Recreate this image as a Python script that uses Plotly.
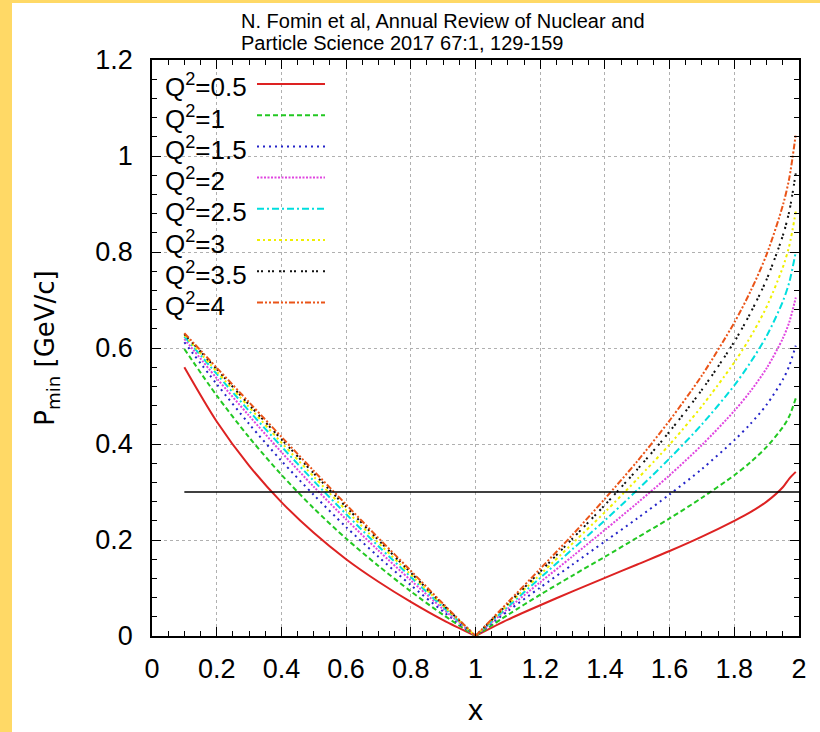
import plotly.graph_objects as go

# ---------------- data ----------------
X_VALUES = [0.1, 0.2, 0.3, 0.4, 0.5, 0.6, 0.7, 0.8, 0.9, 1.0,
            1.1, 1.2, 1.3, 1.4, 1.5, 1.6, 1.7, 1.8, 1.85, 1.9, 1.95, 1.97, 1.99]

Q2_LABELS = ["0.5", "1", "1.5", "2", "2.5", "3", "3.5", "4"]

P_Q2_05 = [0.560, 0.447, 0.355, 0.279, 0.215, 0.160, 0.113, 0.071, 0.033, 0.0,
           0.034, 0.064, 0.093, 0.121, 0.149, 0.177, 0.207, 0.240, 0.258, 0.280, 0.310, 0.328, 0.342]
P_Q2_1 = [0.598, 0.501, 0.414, 0.336, 0.266, 0.203, 0.146, 0.093, 0.044, 0.0,
          0.044, 0.086, 0.126, 0.165, 0.205, 0.245, 0.288, 0.335, 0.362, 0.394, 0.435, 0.458, 0.495]
P_Q2_15 = [0.612, 0.525, 0.442, 0.365, 0.294, 0.227, 0.165, 0.106, 0.051, 0.0,
           0.052, 0.101, 0.149, 0.197, 0.245, 0.295, 0.348, 0.408, 0.442, 0.482, 0.534, 0.563, 0.605]
P_Q2_2 = [0.619, 0.537, 0.459, 0.383, 0.311, 0.243, 0.178, 0.116, 0.056, 0.0,
          0.057, 0.112, 0.166, 0.221, 0.277, 0.335, 0.398, 0.469, 0.510, 0.558, 0.620, 0.654, 0.705]
P_Q2_25 = [0.624, 0.546, 0.469, 0.395, 0.323, 0.254, 0.187, 0.123, 0.060, 0.0,
           0.061, 0.121, 0.181, 0.241, 0.304, 0.370, 0.441, 0.522, 0.570, 0.625, 0.697, 0.737, 0.800]
P_Q2_3 = [0.627, 0.551, 0.477, 0.403, 0.332, 0.262, 0.194, 0.128, 0.063, 0.0,
          0.065, 0.128, 0.193, 0.258, 0.327, 0.399, 0.479, 0.570, 0.623, 0.686, 0.768, 0.813, 0.884]
P_Q2_35 = [0.629, 0.556, 0.482, 0.410, 0.339, 0.269, 0.200, 0.132, 0.065, 0.0,
           0.067, 0.134, 0.203, 0.273, 0.347, 0.426, 0.513, 0.613, 0.673, 0.743, 0.834, 0.885, 0.964]
P_Q2_4 = [0.631, 0.559, 0.487, 0.415, 0.344, 0.274, 0.204, 0.136, 0.067, 0.0,
          0.070, 0.140, 0.211, 0.286, 0.364, 0.449, 0.543, 0.653, 0.718, 0.795, 0.897, 0.954, 1.045]

REF_X = [0.1, 2.0]
REF_Y = [0.3, 0.3]

X_TICKS = [0, 0.2, 0.4, 0.6, 0.8, 1, 1.2, 1.4, 1.6, 1.8, 2]
X_TICK_TEXT = ["0", "0.2", "0.4", "0.6", "0.8", "1", "1.2", "1.4", "1.6", "1.8", "2"]
Y_TICKS = [0, 0.2, 0.4, 0.6, 0.8, 1, 1.2]
Y_TICK_TEXT = ["0", "0.2", "0.4", "0.6", "0.8", "1", "1.2"]

SERIES = [P_Q2_05, P_Q2_1, P_Q2_15, P_Q2_2, P_Q2_25, P_Q2_3, P_Q2_35, P_Q2_4]
COLORS = ["#dd2222", "#22c822", "#2424c8", "#e046e0", "#00dede", "#f0f000", "#111111", "#ea5418"]
DASHES = ["solid", "5px,3px", "2px,4px", "2px,1.5px", "7px,3px,2px,3px",
          "3px,3px,2px,3px", "2px,2px,2px,5px", "6px,2px,2px,2px,2px,2px"]

SANS = "Liberation Sans"

fig = go.Figure()

# the V-shaped curves: left branch (x <= 1) and right branch (x >= 1)
split = X_VALUES.index(1.0)
for lab, ys, col, dash in zip(Q2_LABELS, SERIES, COLORS, DASHES):
    for xs_part, ys_part in ((X_VALUES[:split + 1], ys[:split + 1]),
                             (X_VALUES[split:], ys[split:])):
        fig.add_trace(go.Scatter(x=xs_part, y=ys_part, mode="lines",
                                 name="Q²=" + lab, legendgroup=lab,
                                 line=dict(color=col, width=2, dash=dash,
                                           shape="spline", smoothing=0.8),
                                 showlegend=False))

fig.add_trace(go.Scatter(x=REF_X, y=REF_Y, mode="lines",
                         line=dict(color="black", width=1.5), showlegend=False,
                         hoverinfo="skip"))

# ---------------- layout ----------------
L, R, T, B = 152, 21, 60, 96
W, H = 820, 732
PW, PH = W - L - R, H - T - B


def px_x(p):
    return (p - L) / PW


def px_y(p):
    return (H - B - p) / PH


annotations = []
shapes = []

# legend (text left, sample right, gnuplot style)
for i, (lab, col, dash) in enumerate(zip(Q2_LABELS, COLORS, DASHES)):
    yrow = 84 + 31.2 * i
    annotations.append(dict(
        xref="paper", yref="paper", x=px_x(163), y=px_y(yrow + 2),
        xanchor="left", yanchor="middle", showarrow=False,
        text="Q<sup>2</sup>=" + lab,
        font=dict(family=SANS, size=26, color="black")))
    shapes.append(dict(type="line", xref="paper", yref="paper",
                       x0=px_x(257), x1=px_x(325), y0=px_y(yrow), y1=px_y(yrow),
                       line=dict(color=col, width=2, dash=dash)))

# citation text
annotations.append(dict(xref="paper", yref="paper", x=px_x(239), y=px_y(21),
                        xanchor="left", yanchor="middle", showarrow=False,
                        text="N. Fomin et al, Annual Review of Nuclear and",
                        font=dict(family=SANS, size=20, color="black")))
annotations.append(dict(xref="paper", yref="paper", x=px_x(239), y=px_y(43),
                        xanchor="left", yanchor="middle", showarrow=False,
                        text="Particle Science 2017 67:1, 129-159",
                        font=dict(family=SANS, size=20, color="black")))

# yellow frame strips (left and top)
YEL = "#ffd966"
shapes.append(dict(type="rect", xref="paper", yref="paper", layer="below",
                   x0=px_x(-2), x1=px_x(12), y0=px_y(H + 2), y1=px_y(-2),
                   fillcolor=YEL, line=dict(width=0)))
shapes.append(dict(type="rect", xref="paper", yref="paper", layer="below",
                   x0=px_x(-2), x1=px_x(W + 2), y0=px_y(3), y1=px_y(-2),
                   fillcolor=YEL, line=dict(width=0)))

axis_common = dict(
    showline=True, linecolor="black", linewidth=1.5, mirror="allticks",
    ticks="inside", ticklen=9, tickwidth=1, tickcolor="black",
    showgrid=True, gridcolor="#b0b0b0", gridwidth=1, griddash="dot",
    zeroline=False,
    tickfont=dict(family=SANS, size=27, color="black"),
)

fig.update_layout(
    width=W, height=H,
    margin=dict(l=L, r=R, t=T, b=B, pad=0),
    paper_bgcolor="white", plot_bgcolor="white",
    showlegend=False,
    xaxis=dict(range=[0, 2], tickvals=X_TICKS, ticktext=X_TICK_TEXT,
               ticklabelstandoff=8,
               minor=dict(dtick=0.05, tick0=0, ticks="inside", ticklen=5,
                          tickcolor="black", showgrid=False),
               title=dict(text="x", font=dict(family=SANS, size=30, color="black"),
                          standoff=16),
               **axis_common),
    yaxis=dict(range=[0, 1.2], tickvals=Y_TICKS, ticktext=Y_TICK_TEXT,
               ticklabelstandoff=12,
               minor=dict(dtick=0.04, tick0=0, ticks="inside", ticklen=5,
                          tickcolor="black", showgrid=False),
               title=dict(text="P<sub>min</sub> [GeV/c]",
                          font=dict(family="DejaVu Sans", size=26, color="black"),
                          standoff=33),
               **axis_common),
    annotations=annotations,
    shapes=shapes,
)

fig.write_html("out.html", config={"displayModeBar": False})
